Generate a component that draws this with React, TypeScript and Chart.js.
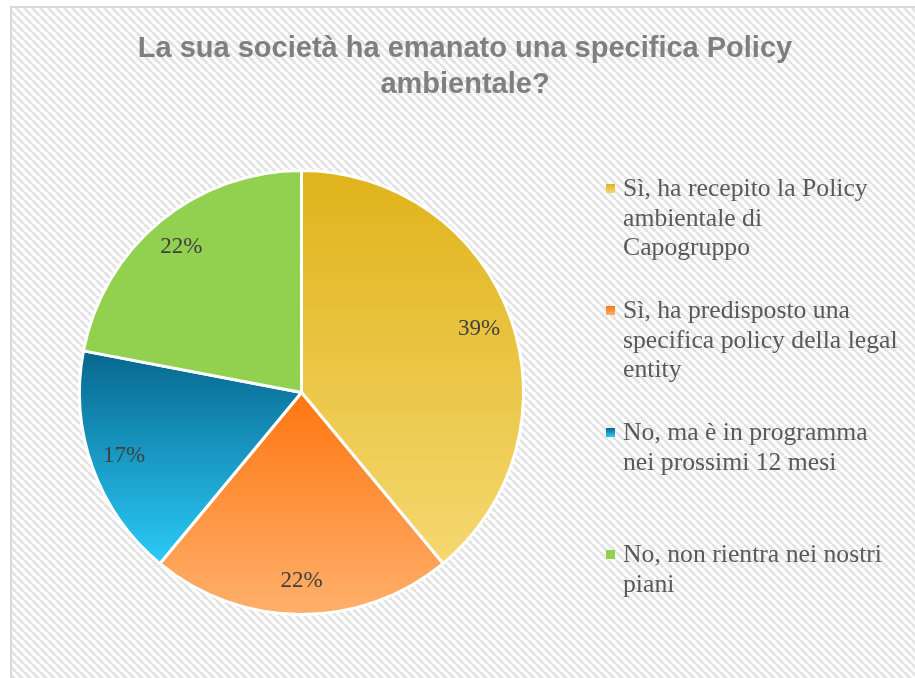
import React, { useEffect, useRef } from "react";
import { Chart, registerables } from "chart.js";

Chart.register(...registerables);

const TITLE_LINES = ["La sua società ha emanato una specifica Policy", "ambientale?"];
const CATEGORIES: string[][] = [
  ["Sì, ha recepito la Policy", "ambientale di", "Capogruppo"],
  ["Sì, ha predisposto una", "specifica policy della legal", "entity"],
  ["No, ma è in programma", "nei prossimi 12 mesi"],
  ["No, non rientra nei nostri", "piani"],
];
const VALUES = [39, 22, 17, 22];
const VALUE_LABELS = ["39%", "22%", "17%", "22%"];
const COLOR_TOP = ["#e0b31a", "#ff7611", "#07678e", "#92d050"];
const COLOR_BOTTOM = ["#f5d870", "#ffb06c", "#2bcbf9", "#92d050"];

const W = 915;
const H = 678;

function sliceExtent(area: any, index: number) {
  const total = VALUES.reduce((a, b) => a + b, 0);
  let before = 0;
  for (let i = 0; i < index; i++) before += VALUES[i];
  const a0 = (before / total) * Math.PI * 2;
  const a1 = ((before + VALUES[index]) / total) * Math.PI * 2;
  const cy = (area.top + area.bottom) / 2;
  const r = Math.min(area.right - area.left, area.bottom - area.top) / 2;
  let ymin = cy;
  let ymax = cy;
  const steps = 60;
  for (let s = 0; s <= steps; s++) {
    const a = a0 + ((a1 - a0) * s) / steps;
    const y = cy - r * Math.cos(a);
    if (y < ymin) ymin = y;
    if (y > ymax) ymax = y;
  }
  return { ymin, ymax };
}

const backgroundPlugin = {
  id: "bgHatch",
  beforeDraw(chart: any) {
    const ctx = chart.ctx as CanvasRenderingContext2D;
    ctx.save();
    ctx.fillStyle = "#ffffff";
    ctx.fillRect(0, 0, W, H);
    const tile = document.createElement("canvas");
    const s = 8;
    tile.width = s;
    tile.height = s;
    const t = tile.getContext("2d")!;
    t.fillStyle = "#ffffff";
    t.fillRect(0, 0, s, s);
    t.strokeStyle = "#e3e3e3";
    t.lineWidth = 3;
    for (const k of [-s, 0, s]) {
      t.beginPath();
      t.moveTo(k, 0);
      t.lineTo(k + s, s);
      t.stroke();
    }
    const pat = ctx.createPattern(tile, "repeat")!;
    ctx.fillStyle = pat;
    ctx.fillRect(11, 7, W - 11, H - 7);
    ctx.strokeStyle = "#d9d9d9";
    ctx.lineWidth = 2;
    ctx.beginPath();
    ctx.moveTo(11, H + 5);
    ctx.lineTo(11, 7);
    ctx.lineTo(W + 5, 7);
    ctx.stroke();
    ctx.restore();
  },
};

const overlayPlugin = {
  id: "overlay",
  afterDraw(chart: any) {
    const ctx = chart.ctx as CanvasRenderingContext2D;
    ctx.save();
    // Title
    ctx.font = "bold 29px 'Liberation Sans', Arial, sans-serif";
    ctx.fillStyle = "#7f7f7f";
    ctx.textAlign = "center";
    ctx.textBaseline = "alphabetic";
    TITLE_LINES.forEach((line, i) => {
      ctx.fillText(line, 465, 57 + i * 36);
    });

    // Value labels
    const meta = chart.getDatasetMeta(0);
    ctx.textBaseline = "middle";
    ctx.font = "23px 'Liberation Serif', 'DejaVu Serif', serif";
    ctx.fillStyle = "#404040";
    meta.data.forEach((arc: any, i: number) => {
      const p = arc.getProps(["x", "y", "startAngle", "endAngle", "outerRadius"], true);
      const mid = (p.startAngle + p.endAngle) / 2;
      const d = p.outerRadius * 0.85;
      ctx.fillText(VALUE_LABELS[i], p.x + Math.cos(mid) * d, p.y + Math.sin(mid) * d);
    });

    // Legend
    ctx.textAlign = "left";
    ctx.textBaseline = "alphabetic";
    ctx.font = "25.7px 'Liberation Serif', 'DejaVu Serif', serif";
    CATEGORIES.forEach((lines, i) => {
      const base = 196 + i * 122;
      const g = ctx.createLinearGradient(0, base - 12, 0, base - 3);
      g.addColorStop(0, COLOR_TOP[i]);
      g.addColorStop(1, COLOR_BOTTOM[i]);
      ctx.fillStyle = g;
      ctx.fillRect(606, base - 12, 9, 9);
      ctx.fillStyle = "#595959";
      lines.forEach((ln, j) => {
        ctx.fillText(ln, 623, base + j * 29.5);
      });
    });
    ctx.restore();
  },
};

export default function App() {
  const ref = useRef<HTMLCanvasElement | null>(null);
  useEffect(() => {
    if (!ref.current) return;
    const chart = new Chart(ref.current, {
      type: "pie",
      data: {
        labels: CATEGORIES.map((c) => c.join(" ")),
        datasets: [
          {
            data: VALUES,
            backgroundColor: (c: any) => {
              const chart = c.chart;
              const area = chart.chartArea;
              const i = c.dataIndex;
              if (!area || i === undefined) return COLOR_TOP[i ?? 0];
              const { ymin, ymax } = sliceExtent(area, i);
              const g = chart.ctx.createLinearGradient(0, ymin, 0, ymax);
              g.addColorStop(0, COLOR_TOP[i]);
              g.addColorStop(1, COLOR_BOTTOM[i]);
              return g;
            },
            borderColor: "#ffffff",
            borderWidth: 3,
          },
        ],
      },
      options: {
        animation: false,
        responsive: false,
        devicePixelRatio: 1,
        layout: { padding: { left: 78, right: W - 525, top: 169, bottom: H - 616 } },
        plugins: {
          legend: { display: false },
          title: { display: false },
          tooltip: { enabled: false },
        },
      },
      plugins: [backgroundPlugin, overlayPlugin],
    });
    return () => chart.destroy();
  }, []);
  return (
    <div style={{ position: "absolute", left: 0, top: 0, width: W, height: H }}>
      <canvas ref={ref} width={W} height={H} style={{ display: "block", width: W, height: H }} />
    </div>
  );
}
